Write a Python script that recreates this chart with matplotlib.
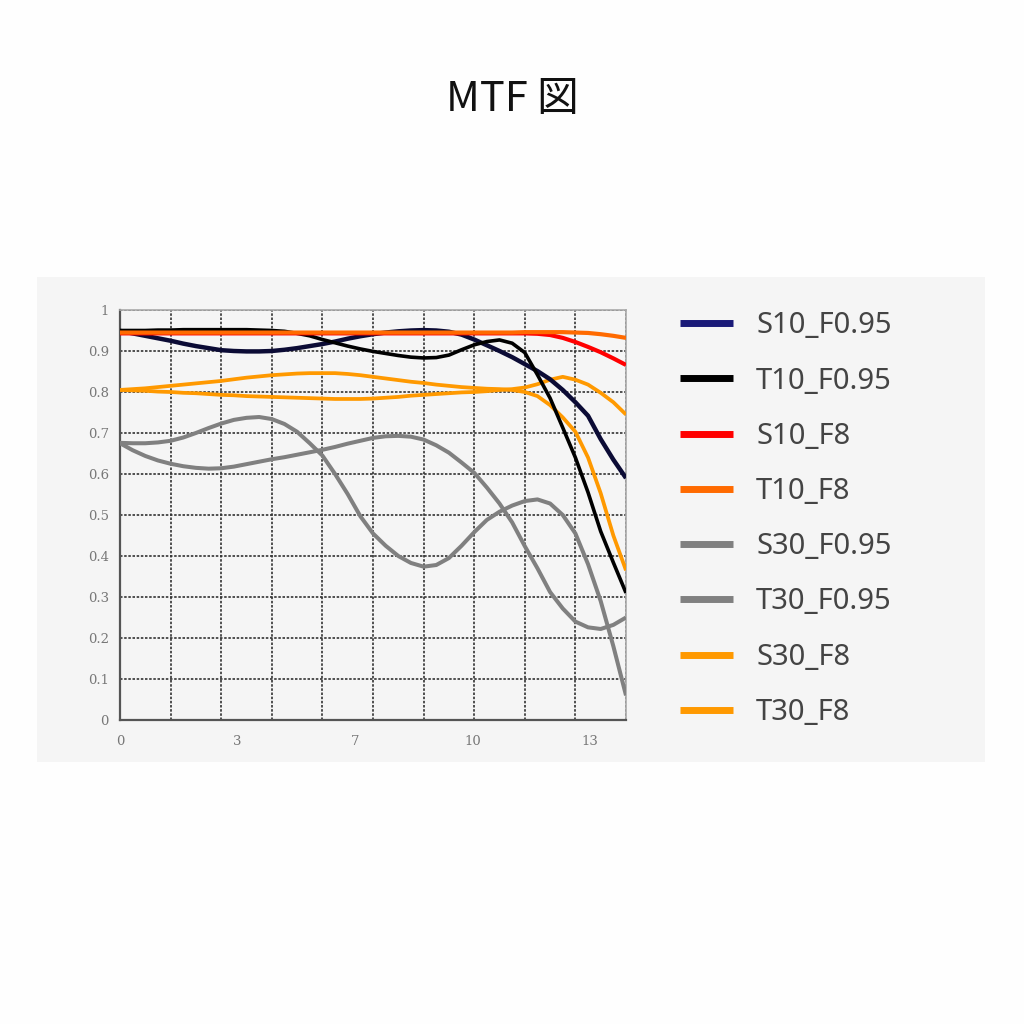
import matplotlib
matplotlib.use('Agg')
import matplotlib.pyplot as plt
from matplotlib.patches import Rectangle

plt.rcParams['font.family'] = ['Noto Sans CJK JP', 'DejaVu Sans']

# x positions of the read points (0..14, quarter grid step)
x = [0, 0.35, 0.7, 1.05, 1.4, 1.75, 2.1, 2.45, 2.8, 3.15,
     3.5, 3.85, 4.2, 4.55, 4.9, 5.25, 5.6, 5.95, 6.3, 6.65,
     7.0, 7.35, 7.7, 8.05, 8.4, 8.75, 9.1, 9.45, 9.8, 10.15,
     10.5, 10.85, 11.2, 11.55, 11.9, 12.25, 12.6, 12.95, 13.3, 13.65, 14.0]

s10_f095 = [0.949, 0.943, 0.937, 0.931, 0.925, 0.918, 0.912, 0.907, 0.902, 0.900,
            0.899, 0.899, 0.900, 0.903, 0.907, 0.912, 0.917, 0.923, 0.930, 0.936,
            0.941, 0.945, 0.948, 0.950, 0.951, 0.950, 0.947, 0.940, 0.928, 0.914,
            0.900, 0.885, 0.868, 0.851, 0.831, 0.805, 0.775, 0.742, 0.685, 0.635, 0.590]
t10_f095 = [0.950, 0.950, 0.950, 0.951, 0.951, 0.952, 0.952, 0.952, 0.952, 0.952,
            0.952, 0.951, 0.950, 0.948, 0.943, 0.937, 0.928, 0.920, 0.912, 0.905,
            0.899, 0.894, 0.889, 0.885, 0.883, 0.884, 0.890, 0.903, 0.915, 0.923,
            0.927, 0.919, 0.896, 0.842, 0.785, 0.713, 0.640, 0.555, 0.460, 0.384, 0.310]
s10_f8 = [0.943, 0.943, 0.943, 0.943, 0.943, 0.943, 0.943, 0.943, 0.943, 0.943,
          0.943, 0.943, 0.943, 0.943, 0.943, 0.943, 0.943, 0.943, 0.943, 0.943,
          0.943, 0.943, 0.943, 0.943, 0.943, 0.943, 0.943, 0.943, 0.943, 0.943,
          0.943, 0.943, 0.943, 0.942, 0.939, 0.932, 0.922, 0.910, 0.897, 0.882, 0.866]
t10_f8 = [0.945, 0.945, 0.945, 0.945, 0.945, 0.945, 0.945, 0.945, 0.945, 0.945,
          0.945, 0.945, 0.945, 0.945, 0.945, 0.945, 0.945, 0.945, 0.945, 0.945,
          0.945, 0.945, 0.945, 0.945, 0.945, 0.945, 0.945, 0.945, 0.945, 0.945,
          0.945, 0.945, 0.946, 0.946, 0.946, 0.946, 0.945, 0.944, 0.941, 0.937, 0.932]
s30_f095 = [0.676, 0.675, 0.675, 0.677, 0.681, 0.689, 0.700, 0.712, 0.723, 0.732,
            0.737, 0.739, 0.734, 0.722, 0.703, 0.675, 0.645, 0.600, 0.551, 0.497,
            0.455, 0.425, 0.400, 0.383, 0.374, 0.378, 0.395, 0.425, 0.458, 0.488,
            0.508, 0.523, 0.534, 0.538, 0.528, 0.500, 0.455, 0.380, 0.290, 0.180, 0.060]
t30_f095 = [0.675, 0.658, 0.644, 0.633, 0.625, 0.619, 0.615, 0.613, 0.614, 0.618,
            0.624, 0.630, 0.636, 0.641, 0.647, 0.653, 0.659, 0.666, 0.674, 0.681,
            0.688, 0.692, 0.693, 0.691, 0.684, 0.670, 0.652, 0.628, 0.603, 0.567,
            0.528, 0.482, 0.424, 0.370, 0.312, 0.272, 0.240, 0.226, 0.222, 0.232, 0.250]
s30_f8 = [0.805, 0.807, 0.809, 0.812, 0.815, 0.818, 0.821, 0.824, 0.827, 0.831,
          0.835, 0.838, 0.841, 0.843, 0.845, 0.846, 0.846, 0.846, 0.844, 0.841,
          0.837, 0.833, 0.829, 0.825, 0.822, 0.818, 0.815, 0.812, 0.810, 0.808,
          0.807, 0.805, 0.800, 0.790, 0.768, 0.738, 0.703, 0.640, 0.553, 0.450, 0.365]
t30_f8 = [0.805, 0.804, 0.803, 0.801, 0.800, 0.798, 0.797, 0.795, 0.793, 0.792,
          0.790, 0.789, 0.788, 0.787, 0.786, 0.785, 0.784, 0.783, 0.783, 0.783,
          0.784, 0.786, 0.788, 0.791, 0.793, 0.795, 0.797, 0.799, 0.800, 0.802,
          0.805, 0.807, 0.811, 0.819, 0.830, 0.837, 0.830, 0.818, 0.798, 0.775, 0.745]

xtick_pos = [0, 3.25, 6.5, 9.75, 13]
xtick_lab = ['0', '3', '7', '10', '13']
ytick_pos = [0, 0.1, 0.2, 0.3, 0.4, 0.5, 0.6, 0.7, 0.8, 0.9, 1.0]
ytick_lab = ['0', '0.1', '0.2', '0.3', '0.4', '0.5', '0.6', '0.7', '0.8', '0.9', '1']
grid_x = [0, 1.4, 2.8, 4.2, 5.6, 7.0, 8.4, 9.8, 11.2, 12.6, 14.0]

fig = plt.figure(figsize=(10.24, 10.24), dpi=100)
fig.patch.set_facecolor('#fefefe')

# серая подложка
fig.patches.append(Rectangle((37 / 1024, 1 - 762 / 1024), 948 / 1024, 485 / 1024,
                             transform=fig.transFigure, facecolor='#f5f5f5',
                             edgecolor='none', zorder=-5))

fig.text(0.5, 1 - 100 / 1024, 'MTF 図', ha='center', va='center',
         fontsize=30, color='#111111')

ax = fig.add_axes([120 / 1024, 1 - 720 / 1024, 506 / 1024, 410 / 1024])
ax.set_zorder(2)
ax.set_facecolor('#f5f5f5')

kw = dict(solid_joinstyle='round', solid_capstyle='butt')
ax.plot(x, s30_f095, color='#808080', lw=2.9, label='S30_F0.95', zorder=3, **kw)
ax.plot(x, t30_f095, color='#808080', lw=2.9, label='T30_F0.95', zorder=3, **kw)
ax.plot(x, s30_f8, color='#ff9900', lw=2.7, label='S30_F8', zorder=4, **kw)
ax.plot(x, t30_f8, color='#ff9900', lw=2.7, label='T30_F8', zorder=4, **kw)
ax.plot(x, s10_f095, color='#0b0b35', lw=3.2, label='S10_F0.95', zorder=5, **kw)
ax.plot(x, t10_f095, color='#000000', lw=2.6, label='T10_F0.95', zorder=5, **kw)
ax.plot(x, s10_f8, color='#ff0000', lw=3.0, label='S10_F8', zorder=6, **kw)
ax.plot(x, t10_f8, color='#ff6a00', lw=3.0, label='T10_F8', zorder=7, **kw)

ax.set_xlim(0, 14)
ax.set_ylim(0, 1)
ax.set_xticks(xtick_pos)
ax.set_xticklabels(xtick_lab)
ax.set_xticks(grid_x, minor=True)
ax.set_yticks(ytick_pos)
ax.set_yticklabels(ytick_lab)
ax.tick_params(which='both', length=0, pad=8, labelsize=9.5, labelcolor='#777777')
ax.tick_params(axis='x', pad=11)
for lab in ax.get_xticklabels() + ax.get_yticklabels():
    lab.set_family('DejaVu Serif')

ax.grid(which='minor', axis='x', color='#333333', linestyle=(0, (1.5, 1)), lw=1.2)
ax.grid(which='major', axis='y', color='#333333', linestyle=(0, (1.5, 1)), lw=1.2)
ax.set_axisbelow(True)

for side in ['left', 'bottom']:
    ax.spines[side].set_color('#555555')
    ax.spines[side].set_linewidth(1.6)
for side in ['top', 'right']:
    ax.spines[side].set_color('#aaaaaa')
    ax.spines[side].set_linewidth(1.2)

# легенда в порядке как на картинке
order = ['S10_F0.95', 'T10_F0.95', 'S10_F8', 'T10_F8',
         'S30_F0.95', 'T30_F0.95', 'S30_F8', 'T30_F8']
h, l = ax.get_legend_handles_labels()
hd = dict(zip(l, h))
leg = fig.legend([hd[k] for k in order], order, loc='upper left',
                 bbox_to_anchor=(654 / 1024, 1 - 285 / 1024), frameon=False,
                 prop={'family': 'Noto Sans', 'size': 21}, handlelength=1.8,
                 handletextpad=0.8, labelspacing=0.9)
for t in leg.get_texts():
    t.set_color('#444444')
for line in leg.get_lines():
    line.set_linewidth(5)
leg.get_lines()[0].set_color('#1a1a78')

fig.savefig('out.png', dpi=100)
